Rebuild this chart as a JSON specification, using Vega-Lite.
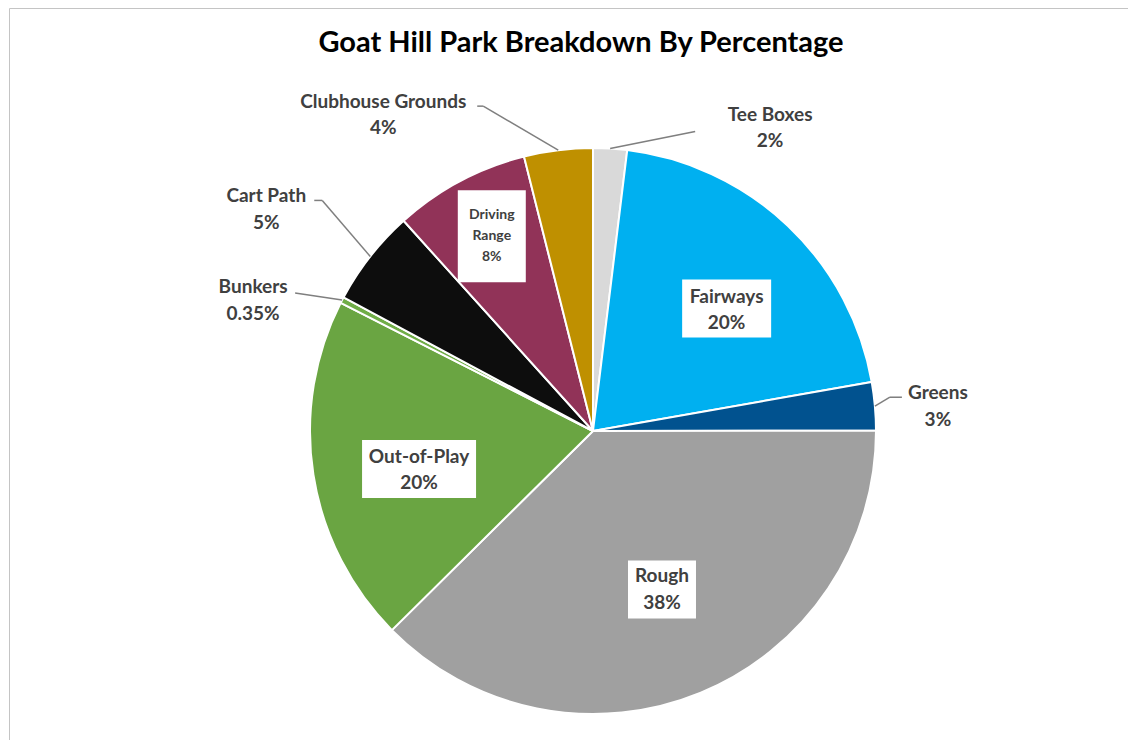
{
  "$schema": "https://vega.github.io/schema/vega-lite/v6.json",
  "width": 1122,
  "height": 735,
  "autosize": "none",
  "padding": {"left": 9, "top": 8, "right": -3, "bottom": -3},
  "background": "white",
  "title": {
    "text": "Goat Hill Park Breakdown By Percentage",
    "font": "Lato",
    "fontSize": 29,
    "fontWeight": "bold",
    "color": "#000000",
    "anchor": "middle",
    "offset": -50,
    "dx": 11
  },
  "config": {
    "view": {"stroke": "#c4c4c4", "strokeWidth": 1}
  },
  "data": {
    "values": [
      {"idx": 1, "name": "Tee Boxes", "value": 1.93, "pct": "2%"},
      {"idx": 2, "name": "Fairways", "value": 20.3, "pct": "20%"},
      {"idx": 3, "name": "Greens", "value": 2.75, "pct": "3%"},
      {"idx": 4, "name": "Rough", "value": 37.6, "pct": "38%"},
      {"idx": 5, "name": "Out-of-Play", "value": 19.9, "pct": "20%"},
      {"idx": 6, "name": "Bunkers", "value": 0.35, "pct": "0.35%"},
      {"idx": 7, "name": "Cart Path", "value": 5.5, "pct": "5%"},
      {"idx": 8, "name": "Driving Range", "value": 7.75, "pct": "8%"},
      {"idx": 9, "name": "Clubhouse Grounds", "value": 3.92, "pct": "4%"}
    ]
  },
  "transform": [
    {"joinaggregate": [{"op": "sum", "field": "value", "as": "total"}]},
    {"window": [{"op": "sum", "field": "value", "as": "cum"}], "sort": [{"field": "idx", "order": "ascending"}], "frame": [null, 0]},
    {"calculate": "2*PI*(datum.cum - datum.value/2)/datum.total", "as": "a"},
    {"calculate": "sin(datum.a)", "as": "ex"},
    {"calculate": "cos(datum.a)", "as": "ey"},
    {"calculate": "0.64*datum.ex", "as": "lx"},
    {"calculate": "0.64*datum.ey", "as": "ly"},
    {"calculate": "datum.name + '|' + datum.pct", "as": "lbl"}
  ],
  "layer": [
    {
      "mark": {"type": "arc", "outerRadius": 283, "stroke": "white", "strokeWidth": 2},
      "encoding": {
        "theta": {"field": "value", "type": "quantitative", "stack": true},
        "order": {"field": "idx", "type": "quantitative", "sort": "ascending"},
        "color": {
          "field": "name",
          "type": "nominal",
          "legend": null,
          "scale": {
            "domain": ["Tee Boxes", "Fairways", "Greens", "Rough", "Out-of-Play", "Bunkers", "Cart Path", "Driving Range", "Clubhouse Grounds"],
            "range": ["#d9d9d9", "#00b0f0", "#01528f", "#a0a0a0", "#6aa542", "#70ad47", "#0d0d0d", "#913358", "#bf9000"]
          }
        },
        "x": {"datum": 0, "type": "quantitative", "scale": {"domain": [-2.0636, 1.90106], "nice": false, "zero": false}, "axis": null},
        "y": {"datum": 0, "type": "quantitative", "scale": {"domain": [-1.10247, 1.4947], "nice": false, "zero": false}, "axis": null}
      }
    },
    {
      "transform": [{"filter": "datum.name === 'Fairways'"}],
      "layer": [
        {
          "mark": {"type": "point", "shape": "M-1,-0.652H1V0.652H-1Z", "size": 7921, "filled": true, "fill": "white", "opacity": 1, "strokeWidth": 0, "xOffset": 9, "yOffset": 9},
          "encoding": {"x": {"field": "lx", "type": "quantitative"}, "y": {"field": "ly", "type": "quantitative"}}
        },
        {
          "mark": {"type": "text", "font": "Lato", "fontSize": 19, "fontWeight": "bold", "fill": "#404040", "align": "center", "baseline": "middle", "lineBreak": "|", "lineHeight": 26, "dx": 9, "dy": -3},
          "encoding": {"x": {"field": "lx", "type": "quantitative"}, "y": {"field": "ly", "type": "quantitative"}, "text": {"field": "lbl"}}
        }
      ]
    },
    {
      "transform": [{"filter": "datum.name === 'Rough'"}],
      "layer": [
        {
          "mark": {"type": "point", "shape": "M-1,-0.853H1V0.853H-1Z", "size": 4624, "filled": true, "fill": "white", "opacity": 1, "strokeWidth": 0, "xOffset": 0, "yOffset": -9},
          "encoding": {"x": {"field": "lx", "type": "quantitative"}, "y": {"field": "ly", "type": "quantitative"}}
        },
        {
          "mark": {"type": "text", "font": "Lato", "fontSize": 19, "fontWeight": "bold", "fill": "#404040", "align": "center", "baseline": "middle", "lineBreak": "|", "lineHeight": 27, "dx": 0, "dy": -22},
          "encoding": {"x": {"field": "lx", "type": "quantitative"}, "y": {"field": "ly", "type": "quantitative"}, "text": {"field": "lbl"}}
        }
      ]
    },
    {
      "transform": [{"filter": "datum.name === 'Out-of-Play'"}],
      "layer": [
        {
          "mark": {"type": "point", "shape": "M-1,-0.509H1V0.509H-1Z", "size": 12996, "filled": true, "fill": "white", "opacity": 1, "strokeWidth": 0, "xOffset": 5, "yOffset": 10},
          "encoding": {"x": {"field": "lx", "type": "quantitative"}, "y": {"field": "ly", "type": "quantitative"}}
        },
        {
          "mark": {"type": "text", "font": "Lato", "fontSize": 19, "fontWeight": "bold", "fill": "#404040", "align": "center", "baseline": "middle", "lineBreak": "|", "lineHeight": 26, "dx": 5, "dy": -2},
          "encoding": {"x": {"field": "lx", "type": "quantitative"}, "y": {"field": "ly", "type": "quantitative"}, "text": {"field": "lbl"}}
        }
      ]
    },
    {
      "transform": [{"filter": "datum.name === 'Driving Range'"}, {"calculate": "datum.name + ' ' + datum.pct", "as": "lbl3"}],
      "layer": [
        {
          "mark": {"type": "point", "shape": "M-1,-1.353H1V1.353H-1Z", "size": 4624, "filled": true, "fill": "white", "opacity": 1, "strokeWidth": 0, "xOffset": -16, "yOffset": -35},
          "encoding": {"x": {"field": "lx", "type": "quantitative"}, "y": {"field": "ly", "type": "quantitative"}}
        },
        {
          "mark": {"type": "text", "font": "Lato", "fontSize": 14, "fontWeight": "bold", "fill": "#404040", "align": "center", "baseline": "middle", "lineBreak": " ", "lineHeight": 21, "dx": -16, "dy": -56},
          "encoding": {"x": {"field": "lx", "type": "quantitative"}, "y": {"field": "ly", "type": "quantitative"}, "text": {"field": "lbl3"}}
        }
      ]
    },
    {
      "transform": [{"filter": "datum.name === 'Tee Boxes'"}],
      "layer": [
        {
          "mark": {"type": "rule", "color": "#7f7f7f", "strokeWidth": 1.5, "x2Offset": 85, "y2Offset": -17},
          "encoding": {"x": {"field": "ex", "type": "quantitative"}, "y": {"field": "ey", "type": "quantitative"}, "x2": {"field": "ex"}, "y2": {"field": "ey"}}
        },
        {
          "mark": {"type": "text", "font": "Lato", "fontSize": 19, "fontWeight": "bold", "fill": "#404040", "align": "center", "baseline": "middle", "lineBreak": "|", "lineHeight": 26, "dx": 160, "dy": -34},
          "encoding": {"x": {"field": "ex", "type": "quantitative"}, "y": {"field": "ey", "type": "quantitative"}, "text": {"field": "lbl"}}
        }
      ]
    },
    {
      "transform": [{"filter": "datum.name === 'Clubhouse Grounds'"}],
      "layer": [
        {
          "mark": {"type": "rule", "color": "#7f7f7f", "strokeWidth": 1.5, "x2Offset": -75, "y2Offset": -44},
          "encoding": {"x": {"field": "ex", "type": "quantitative"}, "y": {"field": "ey", "type": "quantitative"}, "x2": {"field": "ex"}, "y2": {"field": "ey"}}
        },
        {
          "mark": {"type": "rule", "color": "#7f7f7f", "strokeWidth": 1.5, "xOffset": -75, "yOffset": -44, "x2Offset": -81, "y2Offset": -44},
          "encoding": {"x": {"field": "ex", "type": "quantitative"}, "y": {"field": "ey", "type": "quantitative"}, "x2": {"field": "ex"}, "y2": {"field": "ey"}}
        },
        {
          "mark": {"type": "text", "font": "Lato", "fontSize": 19, "fontWeight": "bold", "fill": "#404040", "align": "center", "baseline": "middle", "lineBreak": "|", "lineHeight": 26, "dx": -175, "dy": -48},
          "encoding": {"x": {"field": "ex", "type": "quantitative"}, "y": {"field": "ey", "type": "quantitative"}, "text": {"field": "lbl"}}
        }
      ]
    },
    {
      "transform": [{"filter": "datum.name === 'Cart Path'"}],
      "layer": [
        {
          "mark": {"type": "rule", "color": "#7f7f7f", "strokeWidth": 1.5, "x2Offset": -48, "y2Offset": -56},
          "encoding": {"x": {"field": "ex", "type": "quantitative"}, "y": {"field": "ey", "type": "quantitative"}, "x2": {"field": "ex"}, "y2": {"field": "ey"}}
        },
        {
          "mark": {"type": "rule", "color": "#7f7f7f", "strokeWidth": 1.5, "xOffset": -48, "yOffset": -56, "x2Offset": -56, "y2Offset": -56},
          "encoding": {"x": {"field": "ex", "type": "quantitative"}, "y": {"field": "ey", "type": "quantitative"}, "x2": {"field": "ex"}, "y2": {"field": "ey"}}
        },
        {
          "mark": {"type": "text", "font": "Lato", "fontSize": 19, "fontWeight": "bold", "fill": "#404040", "align": "center", "baseline": "middle", "lineBreak": "|", "lineHeight": 27, "dx": -104, "dy": -60},
          "encoding": {"x": {"field": "ex", "type": "quantitative"}, "y": {"field": "ey", "type": "quantitative"}, "text": {"field": "lbl"}}
        }
      ]
    },
    {
      "transform": [{"filter": "datum.name === 'Bunkers'"}],
      "layer": [
        {
          "mark": {"type": "rule", "color": "#7f7f7f", "strokeWidth": 1.5, "x2Offset": -47, "y2Offset": -7},
          "encoding": {"x": {"field": "ex", "type": "quantitative"}, "y": {"field": "ey", "type": "quantitative"}, "x2": {"field": "ex"}, "y2": {"field": "ey"}}
        },
        {
          "mark": {"type": "text", "font": "Lato", "fontSize": 19, "fontWeight": "bold", "fill": "#404040", "align": "center", "baseline": "middle", "lineBreak": "|", "lineHeight": 27, "dx": -89, "dy": -13},
          "encoding": {"x": {"field": "ex", "type": "quantitative"}, "y": {"field": "ey", "type": "quantitative"}, "text": {"field": "lbl"}}
        }
      ]
    },
    {
      "transform": [{"filter": "datum.name === 'Greens'"}],
      "layer": [
        {
          "mark": {"type": "rule", "color": "#7f7f7f", "strokeWidth": 1.5, "x2Offset": 15, "y2Offset": -9},
          "encoding": {"x": {"field": "ex", "type": "quantitative"}, "y": {"field": "ey", "type": "quantitative"}, "x2": {"field": "ex"}, "y2": {"field": "ey"}}
        },
        {
          "mark": {"type": "rule", "color": "#7f7f7f", "strokeWidth": 1.5, "xOffset": 15, "yOffset": -9, "x2Offset": 27, "y2Offset": -9},
          "encoding": {"x": {"field": "ex", "type": "quantitative"}, "y": {"field": "ey", "type": "quantitative"}, "x2": {"field": "ex"}, "y2": {"field": "ey"}}
        },
        {
          "mark": {"type": "text", "font": "Lato", "fontSize": 19, "fontWeight": "bold", "fill": "#404040", "align": "center", "baseline": "middle", "lineBreak": "|", "lineHeight": 27, "dx": 63, "dy": -13},
          "encoding": {"x": {"field": "ex", "type": "quantitative"}, "y": {"field": "ey", "type": "quantitative"}, "text": {"field": "lbl"}}
        }
      ]
    }
  ]
}
